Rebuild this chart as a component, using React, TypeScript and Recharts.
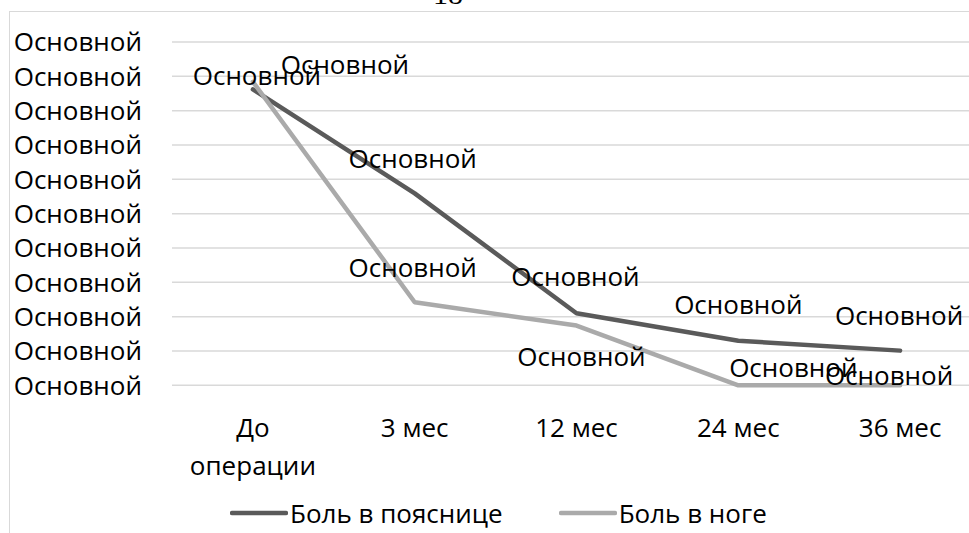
import React from 'react';
import { LineChart, Line, XAxis, YAxis, CartesianGrid, Legend, LabelList } from 'recharts';

// Pain scores over follow-up
const periods = ['До операции', '3 мес', '12 мес', '24 мес', '36 мес'];
const lowBackPain = [8.62, 5.59, 2.1, 1.3, 1.01];
const legPain = [8.84, 2.42, 1.74, 0, 0];
const seriesNames = ['Боль в пояснице', 'Боль в ноге'];
const yTicks = [0, 1, 2, 3, 4, 5, 6, 7, 8, 9, 10];
const tickCaption = 'Основной';
const pointCaption = 'Основной';
const pageNumber = '18';

const data = periods.map((period, i) => ({
  period,
  back: lowBackPain[i],
  leg: legPain[i],
}));

const FONT = '"Open Sans", sans-serif';
const FONT_SIZE = 26;
const DARK = '#5a5a5a';
const LIGHT = '#aaaaaa';
const GRID = '#d9d9d9';

// label centre offsets from each point, [dx, dy]
const backLabelShift = [
  [4, -14],
  [-2, -35],
  [-1, -36],
  [0, -36],
  [-1, -35],
];
const legLabelShift = [
  [92, -17],
  [-2, -35],
  [5, 31],
  [55, -18],
  [-11, -10],
];

const makeLabel = (shifts: number[][]) => (props: any) => {
  const { x, y, index } = props;
  const [dx, dy] = shifts[index] || [0, 0];
  return (
    <text
      x={Number(x) + dx}
      y={Number(y) + dy + FONT_SIZE * 0.357}
      textAnchor="middle"
      fontFamily={FONT}
      fontSize={FONT_SIZE}
      fill="#000"
    >
      {pointCaption}
    </text>
  );
};

// category labels: long multi-word names wrap onto one word per line
const PeriodTick = (props: any) => {
  const { x, y, payload } = props;
  const label = String(payload.value);
  const lines = label.length > 8 ? label.split(' ') : [label];
  return (
    <text
      x={x}
      y={y + 33}
      textAnchor="middle"
      fill="#000"
      fontFamily={FONT}
      fontSize={FONT_SIZE}
    >
      {lines.map((line, i) => (
        <tspan key={i} x={x} dy={i === 0 ? '0.71em' : 38}>
          {line}
        </tspan>
      ))}
    </text>
  );
};

const LegendRow = () => (
  <div
    style={{
      display: 'flex',
      alignItems: 'center',
      height: 40,
      paddingLeft: 230,
      fontFamily: FONT,
      fontSize: FONT_SIZE,
      lineHeight: 1,
      color: '#000',
    }}
  >
    {[DARK, LIGHT].map((c, i) => (
      <div key={i} style={{ display: 'flex', alignItems: 'center', marginRight: 56 }}>
        <svg width={58} height={10} style={{ display: 'block' }}>
          <line x1={2} y1={5} x2={56} y2={5} stroke={c} strokeWidth={4.5} strokeLinecap="round" />
        </svg>
        <span style={{ marginLeft: 2, whiteSpace: 'nowrap' }}>{seriesNames[i]}</span>
      </div>
    ))}
  </div>
);

export default function App() {
  return (
    <div
      style={{
        position: 'absolute',
        left: 0,
        top: 0,
        width: 969,
        height: 533,
        overflow: 'hidden',
        background: '#fff',
      }}
    >
      <svg width={969} height={20} style={{ position: 'absolute', left: 0, top: 0 }}>
        <text x={448} y={4} textAnchor="middle" fontFamily='"Liberation Serif", serif' fontSize={30} fill="#000">
          {pageNumber}
        </text>
      </svg>
      <div
        style={{
          position: 'absolute',
          left: 9,
          top: 11,
          width: 1000,
          height: 600,
          borderLeft: `1.5px solid ${GRID}`,
          borderTop: `1.5px solid ${GRID}`,
        }}
      />
      <div style={{ position: 'absolute', left: 0, top: 0 }}>
        <LineChart
          width={1000}
          height={533}
          data={data}
          margin={{ top: 42, right: 19, bottom: 0, left: 0 }}
        >
          <CartesianGrid vertical={false} stroke={GRID} strokeWidth={1.5} />
          <XAxis
            dataKey="period"
            scale="band"
            height={107.7}
            axisLine={false}
            tickLine={false}
            tickSize={0}
            tickMargin={0}
            interval={0}
            tick={<PeriodTick />}
          />
          <YAxis
            domain={[0, 10]}
            ticks={yTicks}
            interval={0}
            width={172}
            axisLine={false}
            tickLine={false}
            tickSize={0}
            tickMargin={30}
            tickFormatter={() => tickCaption}
            tick={{ fill: '#000', fontSize: FONT_SIZE, fontFamily: FONT }}
          />
          <Legend
            verticalAlign="bottom"
            height={40}
            wrapperStyle={{ left: 0, bottom: 0, width: 1000 }}
            content={() => <LegendRow />}
          />
          <Line
            dataKey="back"
            name={seriesNames[0]}
            stroke={DARK}
            strokeWidth={4.5}
            strokeLinejoin="round"
            strokeLinecap="round"
            dot={false}
            isAnimationActive={false}
          >
            <LabelList dataKey="back" content={makeLabel(backLabelShift)} />
          </Line>
          <Line
            dataKey="leg"
            name={seriesNames[1]}
            stroke={LIGHT}
            strokeWidth={4.5}
            strokeLinejoin="round"
            strokeLinecap="round"
            dot={false}
            isAnimationActive={false}
          >
            <LabelList dataKey="leg" content={makeLabel(legLabelShift)} />
          </Line>
        </LineChart>
      </div>
    </div>
  );
}
